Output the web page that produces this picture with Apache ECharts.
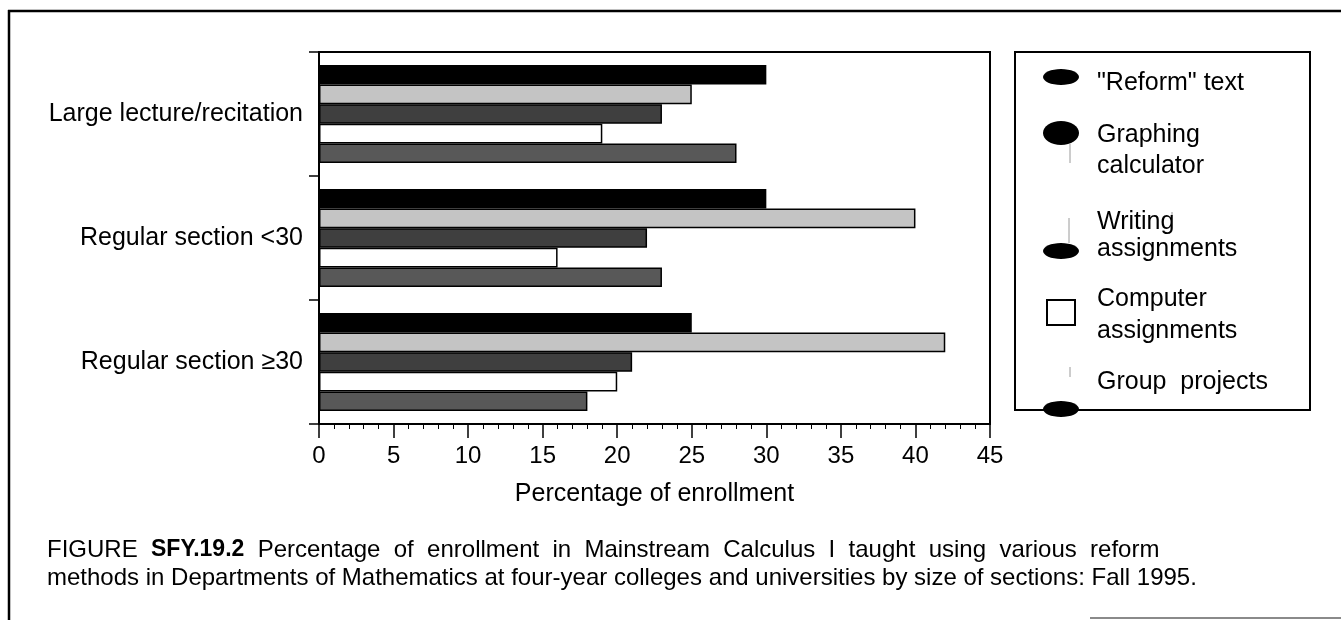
<!DOCTYPE html>
<html>
<head>
<meta charset="utf-8">
<script src="https://cdn.jsdelivr.net/npm/echarts@6/dist/echarts.min.js"></script>
<style>
  html, body { margin: 0; padding: 0; background: #fff; }
  #chart { width: 1341px; height: 620px; }
</style>
</head>
<body>
<div id="chart"></div>
<script>
// Section types (top to bottom)
const categories = ['Large lecture/recitation', 'Regular section <30', 'Regular section \u226530'];

// Reform methods, in legend order
const methodNames = ['"Reform" text', 'Graphing calculator', 'Writing assignments', 'Computer assignments', 'Group projects'];

// Percentage of enrollment per section type
const reformText = [30, 30, 25];
const graphingCalc = [25, 40, 42];
const writingAssign = [23, 22, 21];
const computerAssign = [19, 16, 20];
const groupProjects = [28, 23, 18];

// Legend text lines for each method
const legendLines = [['"Reform" text'], ['Graphing', 'calculator'], ['Writing', 'assignments'], ['Computer', 'assignments'], ['Group  projects']];

const xTickMin = 0, xTickMax = 45, xTickStep = 5;

const FONT = "'Liberation Sans', Arial, Helvetica, sans-serif";
const values = [reformText, graphingCalc, writingAssign, computerAssign, groupProjects];
const fills = ['#000000', '#c4c4c4', '#3f3f3f', '#ffffff', '#585858'];

const series = methodNames.map((name, i) => ({
  name: name,
  type: 'bar',
  data: values[i],
  barGap: '0%',
  barCategoryGap: '21%',
  itemStyle: { color: fills[i], borderColor: '#000', borderWidth: 1.5 },
  silent: true
}));

// Legend panel drawn as graphic shapes + text
const legendText = [];
const textY = [[82], [134, 165], [221, 248], [298, 330], [381]];
legendLines.forEach((lines, i) => {
  lines.forEach((t, j) => {
    legendText.push({
      type: 'text', left: 1097, top: textY[i][j] - 11,
      style: { text: t, font: '25px ' + FONT, fill: '#000' }
    });
  });
});

const blk = { fill: '#000' };
const thin = { stroke: '#9a9a9a', lineWidth: 1 };
const legendShapes = [
  { type: 'rect', shape: { x: 1015, y: 52, width: 295, height: 358 }, style: { fill: '#fff', stroke: '#000', lineWidth: 2 } },
  { type: 'ellipse', shape: { cx: 1061, cy: 77, rx: 18, ry: 8 }, style: blk },
  { type: 'ellipse', shape: { cx: 1061, cy: 133, rx: 18, ry: 12 }, style: blk },
  { type: 'line', shape: { x1: 1070, y1: 144, x2: 1070, y2: 163 }, style: thin },
  { type: 'line', shape: { x1: 1069, y1: 218, x2: 1069, y2: 243 }, style: thin },
  { type: 'line', shape: { x1: 1172, y1: 212, x2: 1172, y2: 230 }, style: thin },
  { type: 'ellipse', shape: { cx: 1061, cy: 251, rx: 18, ry: 8 }, style: blk },
  { type: 'rect', shape: { x: 1047, y: 300, width: 28, height: 25 }, style: { fill: '#fff', stroke: '#000', lineWidth: 2 } },
  { type: 'line', shape: { x1: 1070, y1: 367, x2: 1070, y2: 377 }, style: thin },
  { type: 'ellipse', shape: { cx: 1061, cy: 409, rx: 18, ry: 8 }, style: blk }
];

// Figure frame
const frame = [
  { type: 'line', shape: { x1: 8, y1: 11, x2: 1341, y2: 11 }, style: { stroke: '#000', lineWidth: 2.5 } },
  { type: 'line', shape: { x1: 9, y1: 10, x2: 9, y2: 620 }, style: { stroke: '#000', lineWidth: 2.5 } },
  { type: 'line', shape: { x1: 1090, y1: 618, x2: 1341, y2: 618 }, style: { stroke: '#8a8a8a', lineWidth: 2 } }
];

const captionLine1 = 'FIGURE  {b|SFY.19.2}  Percentage  of  enrollment  in  Mainstream  Calculus  I  taught  using  various  reform';
const captionLine2 = 'methods in Departments of Mathematics at four-year colleges and universities by size of sections: Fall 1995.';

const chart = echarts.init(document.getElementById('chart'), null, { renderer: 'canvas' });
chart.setOption({
  animation: false,
  backgroundColor: '#fff',
  textStyle: { fontFamily: FONT, color: '#000' },
  title: {
    left: 47, top: 536, padding: 0,
    text: captionLine1 + '\n' + captionLine2,
    textStyle: {
      fontFamily: FONT, fontSize: 24, fontWeight: 'normal', color: '#000', lineHeight: 28,
      rich: { b: { fontFamily: FONT, fontSize: 23, fontWeight: 'bold', color: '#000', lineHeight: 28 } }
    }
  },
  grid: {
    left: 319, top: 52, right: 351, bottom: 196,
    show: true, borderColor: '#000', borderWidth: 2, backgroundColor: '#fff'
  },
  xAxis: {
    type: 'value', min: xTickMin, max: xTickMax, interval: xTickStep,
    name: 'Percentage of enrollment', nameLocation: 'middle', nameGap: 58,
    nameTextStyle: { fontFamily: FONT, fontSize: 25, color: '#000' },
    axisLine: { show: true, lineStyle: { color: '#000', width: 2 } },
    axisTick: { show: true, inside: false, length: 14, lineStyle: { color: '#000', width: 1.5 } },
    minorTick: { show: true, splitNumber: 5, length: 5, lineStyle: { color: '#000', width: 1 } },
    axisLabel: { fontFamily: FONT, fontSize: 24, color: '#000', margin: 20 },
    splitLine: { show: false }
  },
  yAxis: {
    type: 'category', data: categories, inverse: true,
    axisLine: { show: true, lineStyle: { color: '#000', width: 2 } },
    axisTick: { show: true, inside: false, length: 10, lineStyle: { color: '#000', width: 1.5 } },
    axisLabel: { fontFamily: FONT, fontSize: 25, color: '#000', margin: 16 },
    splitLine: { show: false }
  },
  series: series,
  graphic: frame.concat(legendShapes, legendText)
});
</script>
</body>
</html>
